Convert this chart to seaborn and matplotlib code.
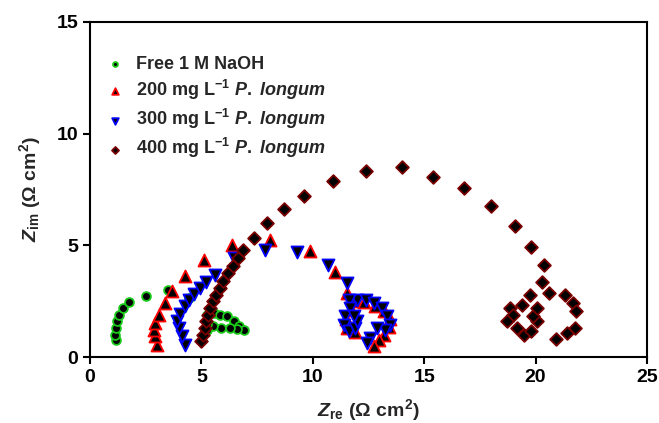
import matplotlib
matplotlib.use("Agg")
import matplotlib.pyplot as plt
import seaborn as sns
import pandas as pd

# Nyquist data (Z_re, Z_im in ohm cm^2)
naoh_re = [1.15, 1.12, 1.15, 1.20, 1.30, 1.50, 1.75, 2.50, 3.50, 4.45,
           5.25, 5.55, 5.85, 6.15, 6.45, 6.70, 6.90, 6.60, 6.30, 5.90, 5.50, 5.25, 5.25]
naoh_im = [0.75, 1.00, 1.30, 1.60, 1.90, 2.20, 2.45, 2.75, 3.00, 2.65,
           1.90, 1.95, 1.90, 1.85, 1.60, 1.40, 1.20, 1.25, 1.30, 1.30, 1.40, 1.50, 1.20]

pl200_re = [2.99, 2.90, 2.86, 2.90, 3.08, 3.35, 3.67, 4.25, 5.10, 6.36, 8.06, 9.86,
            10.98, 11.55, 11.90, 12.30, 12.80, 13.20, 13.45, 13.40, 13.20, 12.95, 12.75,
            11.70, 11.50, 11.55, 11.90]
pl200_im = [0.55, 0.95, 1.20, 1.52, 1.87, 2.43, 2.97, 3.64, 4.35, 5.03, 5.25, 4.76,
            3.82, 2.88, 2.50, 2.45, 2.30, 2.05, 1.70, 1.35, 1.00, 0.75, 0.50,
            2.10, 1.70, 1.30, 1.10]

pl300_re = [4.25, 4.12, 3.98, 3.89, 4.03, 4.25, 4.43, 4.65, 4.92, 5.19, 5.60, 6.45,
            7.84, 9.28, 10.67, 11.52, 11.97, 12.40, 12.73, 13.09, 13.32, 13.45, 13.23,
            12.87, 12.55, 12.42, 11.61, 11.66, 11.43, 11.39, 11.61, 11.88, 11.97, 11.83]
pl300_im = [0.55, 0.95, 1.31, 1.62, 1.94, 2.29, 2.56, 2.83, 3.10, 3.37, 3.68, 4.44,
            4.80, 4.71, 4.13, 3.32, 2.56, 2.56, 2.43, 2.20, 1.85, 1.44, 1.22,
            1.31, 0.86, 0.64, 2.56, 2.20, 1.85, 1.44, 1.17, 1.31, 1.62, 1.85]

pl400_re = [4.98, 5.07, 5.16, 5.21, 5.30, 5.39, 5.52, 5.66, 5.84, 5.97, 6.19, 6.42,
            6.64, 6.86, 7.35, 7.93, 8.69, 9.59, 10.89, 12.37, 13.99, 15.38, 16.80,
            18.00, 19.06, 19.78, 20.36, 20.27, 20.59, 21.30, 21.70, 21.80, 21.75,
            21.40, 20.90, 19.73, 19.38, 18.84, 19.00, 18.70, 19.15, 19.46, 19.80,
            20.05, 19.90, 20.05]
pl400_im = [0.73, 1.00, 1.31, 1.62, 1.89, 2.20, 2.52, 2.79, 3.10, 3.41, 3.77, 4.09,
            4.44, 4.80, 5.34, 6.01, 6.64, 7.22, 7.89, 8.34, 8.52, 8.07, 7.55,
            6.77, 5.88, 4.94, 4.13, 3.37, 2.88, 2.79, 2.43, 2.07, 1.31,
            1.09, 0.82, 2.79, 2.34, 2.20, 1.89, 1.62, 1.31, 1.00, 1.17,
            1.62, 1.85, 2.20]

labels = ["Free 1 M NaOH",
          r"200 mg L$^{\mathrm{-}1}$ $\mathit{P.}$ $\mathit{longum}$",
          r"300 mg L$^{\mathrm{-}1}$ $\mathit{P.}$ $\mathit{longum}$",
          r"400 mg L$^{\mathrm{-}1}$ $\mathit{P.}$ $\mathit{longum}$"]

series = [
    (naoh_re, naoh_im, "o", "#19c819", 40),
    (pl200_re, pl200_im, "^", "#ff0000", 75),
    (pl300_re, pl300_im, "v", "#0000ff", 75),
    (pl400_re, pl400_im, "D", "#7a0000", 42),
]

sns.set_style("ticks")
plt.rcParams["font.family"] = ["Liberation Sans", "DejaVu Sans"]
plt.rcParams["font.weight"] = "bold"
plt.rcParams["mathtext.fontset"] = "custom"
plt.rcParams["mathtext.rm"] = "Liberation Sans:bold"
plt.rcParams["mathtext.it"] = "Liberation Sans:italic:bold"
plt.rcParams["mathtext.bf"] = "Liberation Sans:bold"

fig = plt.figure(figsize=(6.59, 4.23), dpi=100)
ax = fig.add_axes([90 / 659, 66 / 423, 557 / 659, 335 / 423])

for (xs, ys, mk, col, size), lab in zip(series, labels):
    df = pd.DataFrame({"Zre": xs, "Zim": ys})
    sns.scatterplot(data=df, x="Zre", y="Zim", ax=ax, marker=mk, s=size,
                    color="black", edgecolor=col, linewidth=1.3, label=lab,
                    zorder=3)

ax.set_xlim(0, 25)
ax.set_ylim(0, 15)
ax.set_xticks([0, 5, 10, 15, 20, 25])
ax.set_yticks([0, 5, 10, 15])

for side in ["left", "bottom", "top", "right"]:
    ax.spines[side].set_visible(True)
    ax.spines[side].set_linewidth(1.5)
    ax.spines[side].set_color("black")

ax.tick_params(axis="both", direction="out", length=5, width=1.5,
               labelsize=14, colors="black", bottom=True, left=True,
               top=False, right=False)
for t in ax.get_xticklabels() + ax.get_yticklabels():
    t.set_fontweight("bold")

ax.set_xlabel(r"$Z_{\mathrm{re}}$ ($\Omega$ cm$^{2}$)", fontsize=14,
              fontweight="bold", labelpad=8)
ax.set_ylabel(r"$Z_{\mathrm{im}}$ ($\Omega$ cm$^{2}$)", fontsize=14,
              fontweight="bold", labelpad=10)

leg = ax.legend(loc="upper left", bbox_to_anchor=(0.012, 0.92), frameon=False,
                fontsize=13, markerscale=0.55, handletextpad=0.55,
                labelspacing=0.28, handlelength=1.2, borderaxespad=0)
for t in leg.get_texts():
    t.set_fontweight("bold")

fig.savefig("out.png", dpi=100)
